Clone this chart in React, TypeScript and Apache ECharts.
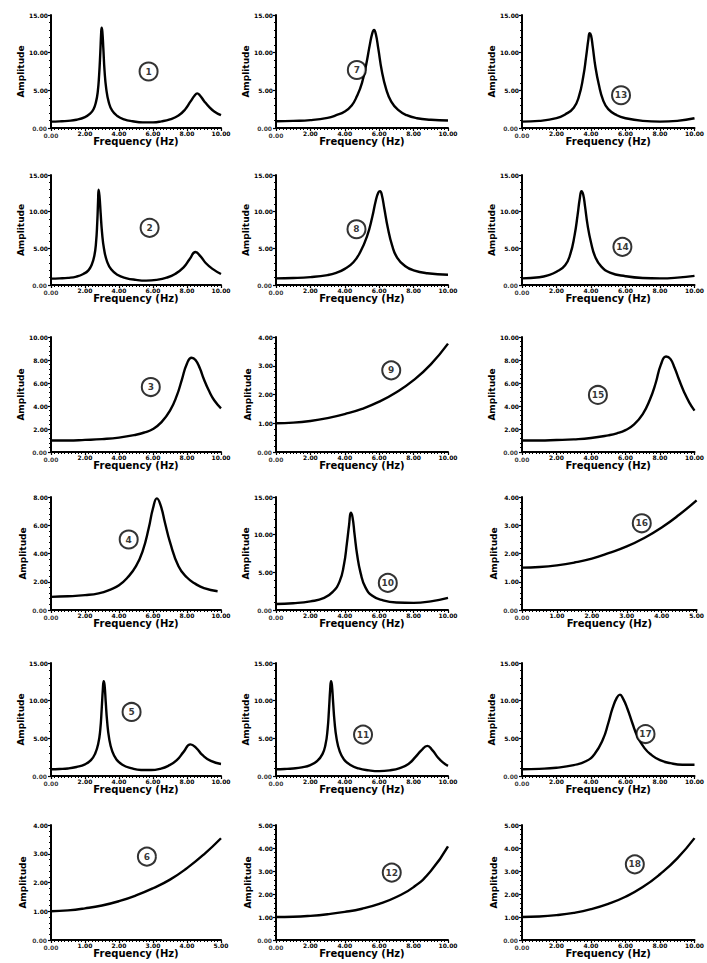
import React, { useEffect, useRef } from "react";
import * as echarts from "echarts";

// ---- curve data, [frequency (Hz), amplitude] ----
const p1 = [[0,0.85],[0.5,0.88],[1,0.95],[1.5,1.1],[2,1.45],[2.3,1.9],[2.5,2.5],[2.65,3.5],[2.75,4.8],[2.83,7],[2.9,10],[2.95,12.6],[2.98,13.3],[3.02,12.8],[3.08,10.5],[3.15,7.6],[3.25,5.2],[3.4,3.4],[3.6,2.3],[3.9,1.6],[4.3,1.15],[4.8,0.9],[5.4,0.75],[6,0.75],[6.5,0.88],[7,1.15],[7.5,1.65],[7.9,2.5],[8.2,3.5],[8.45,4.3],[8.6,4.6],[8.75,4.35],[9,3.6],[9.3,2.8],[9.6,2.2],[10,1.7]];
const p2 = [[0,0.87],[0.5,0.9],[1,0.97],[1.5,1.15],[1.9,1.5],[2.2,2.0],[2.4,2.8],[2.55,4.0],[2.65,5.8],[2.72,8.5],[2.77,11.5],[2.8,13.0],[2.85,12.2],[2.92,9.8],[3.0,7.2],[3.12,4.9],[3.3,3.2],[3.55,2.1],[3.9,1.4],[4.4,0.95],[5,0.7],[5.6,0.6],[6.2,0.7],[6.8,1.0],[7.3,1.5],[7.8,2.4],[8.15,3.5],[8.5,4.5],[8.8,3.9],[9.1,3.0],[9.5,2.2],[10,1.5]];
const p3 = [[0,1.0],[1,1.0],[2,1.05],[3,1.12],[4,1.25],[5,1.5],[5.5,1.7],[6,2.0],[6.5,2.6],[7,3.6],[7.4,4.9],[7.7,6.3],[8.0,7.7],[8.27,8.2],[8.5,8.0],[8.75,7.3],[9.0,6.3],[9.3,5.3],[9.6,4.5],[10,3.8]];
const p4 = [[0,0.93],[1,0.97],[2,1.05],[2.8,1.18],[3.5,1.45],[4,1.75],[4.5,2.3],[5,3.1],[5.4,4.2],[5.75,5.8],[6.0,7.2],[6.23,7.9],[6.45,7.4],[6.7,6.2],[7.0,4.8],[7.5,3.1],[8,2.3],[8.5,1.85],[9,1.55],[9.8,1.33]];
const p5 = [[0,0.9],[0.5,0.93],[1,1.0],[1.5,1.2],[2,1.55],[2.35,2.1],[2.6,3.0],[2.78,4.3],[2.9,6.2],[2.98,8.8],[3.05,11.5],[3.1,12.6],[3.15,12.1],[3.22,9.8],[3.3,7.3],[3.42,5.0],[3.6,3.3],[3.85,2.2],[4.2,1.5],[4.7,1.05],[5.3,0.8],[5.9,0.8],[6.4,0.95],[6.9,1.35],[7.4,2.1],[7.8,3.2],[8.2,4.2],[8.55,3.7],[8.9,2.8],[9.4,2.0],[10,1.6]];
const p6 = [[0,1.0],[0.5,1.03],[1,1.1],[1.5,1.2],[2,1.35],[2.5,1.55],[3,1.8],[3.5,2.1],[4,2.5],[4.5,2.98],[5,3.54]];
const p7 = [[0,0.9],[1,0.95],[2,1.05],[3,1.35],[3.5,1.7],[4,2.2],[4.4,3.0],[4.7,4.2],[5,6.0],[5.25,8.5],[5.45,11],[5.6,12.6],[5.7,13.0],[5.8,12.5],[5.95,10.5],[6.15,7.6],[6.4,5.2],[6.7,3.5],[7.1,2.4],[7.6,1.7],[8.2,1.3],[9,1.1],[10,1.0]];
const p8 = [[0,0.9],[1,0.95],[2,1.08],[3,1.35],[3.5,1.65],[4,2.2],[4.5,3.1],[4.9,4.5],[5.3,6.7],[5.6,9.3],[5.8,11.5],[5.95,12.6],[6.05,12.8],[6.15,12.3],[6.3,10.4],[6.5,7.8],[6.75,5.4],[7.05,3.7],[7.5,2.6],[8,2.0],[8.8,1.6],[10,1.4]];
const p9 = [[0,1.0],[1,1.02],[2,1.08],[3,1.18],[4,1.32],[5,1.5],[6,1.75],[7,2.08],[8,2.5],[9,3.05],[10,3.77]];
const p10 = [[0,0.8],[1,0.9],[2,1.15],[2.8,1.6],[3.3,2.4],[3.7,3.8],[3.95,6],[4.12,8.8],[4.25,11.3],[4.35,12.9],[4.45,12.3],[4.57,10],[4.72,7.3],[4.92,4.9],[5.2,3.0],[5.6,1.9],[6.2,1.3],[7,1.0],[8,0.95],[9,1.15],[10,1.6]];
const p11 = [[0,0.9],[0.5,0.93],[1,1.0],[1.5,1.15],[2,1.45],[2.4,2.0],[2.7,2.9],[2.88,4.2],[3.0,6.2],[3.08,8.8],[3.15,11.5],[3.2,12.6],[3.25,12.1],[3.32,9.8],[3.4,7.3],[3.52,5.0],[3.7,3.3],[3.95,2.2],[4.3,1.5],[4.8,1.0],[5.4,0.75],[6,0.65],[6.6,0.75],[7.2,1.05],[7.7,1.6],[8.1,2.5],[8.45,3.4],[8.8,4.0],[9.1,3.4],[9.4,2.5],[9.7,1.8],[10,1.35]];
const p12 = [[0,1.0],[1,1.01],[2,1.05],[3,1.12],[4,1.22],[5,1.36],[6,1.57],[7,1.87],[8,2.3],[9,3.0],[10,4.07]];
const p13 = [[0,0.85],[1,0.95],[2,1.3],[2.5,1.8],[3,2.7],[3.3,4.2],[3.55,6.8],[3.72,9.5],[3.85,11.8],[3.92,12.6],[4.0,12.3],[4.1,10.8],[4.25,8.2],[4.45,5.8],[4.7,3.7],[5,2.5],[5.5,1.7],[6,1.3],[7,0.95],[8,0.85],[9,0.95],[10,1.3]];
const p14 = [[0,0.9],[1,1.05],[1.5,1.3],[2,1.8],[2.5,2.7],[2.8,4.2],[3.05,6.8],[3.22,9.5],[3.35,11.8],[3.45,12.8],[3.55,12.3],[3.65,10.8],[3.8,8.2],[4.0,5.8],[4.25,3.8],[4.6,2.5],[5.1,1.7],[6,1.2],[7,0.95],[8,0.9],[9,1.0],[10,1.25]];
const p15 = [[0,1.0],[1,1.0],[2,1.04],[3,1.1],[4,1.22],[5,1.45],[5.5,1.62],[6,1.9],[6.5,2.4],[7,3.3],[7.4,4.5],[7.75,6.0],[8.05,7.6],[8.35,8.3],[8.6,8.1],[8.85,7.3],[9.1,6.3],[9.4,5.2],[9.7,4.3],[10,3.6]];
const p16 = [[0,1.5],[0.5,1.52],[1,1.58],[1.5,1.68],[2,1.82],[2.5,2.02],[3,2.25],[3.5,2.55],[4,2.92],[4.5,3.37],[5,3.88]];
const p17 = [[0,0.9],[1,0.95],[2,1.1],[3,1.45],[3.7,1.95],[4.2,2.9],[4.7,4.9],[5.0,7.0],[5.25,9.0],[5.5,10.4],[5.68,10.8],[5.85,10.3],[6.1,9.0],[6.4,7.0],[6.7,5.2],[7.1,3.7],[7.5,2.8],[8,2.1],[8.6,1.7],[9.3,1.5],[10,1.5]];
const p18 = [[0,1.0],[1,1.02],[2,1.08],[3,1.18],[4,1.34],[5,1.57],[6,1.88],[7,2.3],[8,2.86],[9,3.55],[10,4.43]];

const curves = [p1,p2,p3,p4,p5,p6,p7,p8,p9,p10,p11,p12,p13,p14,p15,p16,p17,p18];

// axis ranges per panel
const xMaxes = [10,10,10,10,10,5, 10,10,10,10,10,10, 10,10,10,5,10,10];
const xSteps = [2,2,2,2,2,1, 2,2,2,2,2,2, 2,2,2,1,2,2];
const yMaxes = [15,15,10,8,15,4, 15,15,4,15,15,5, 15,15,10,4,15,5];
const ySteps = [5,5,2,2,5,1, 5,5,1,5,5,1, 5,5,2,1,5,1];

// circled panel numbers and where they sit (data coordinates)
const panelNumbers = ["1","2","3","4","5","6","7","8","9","10","11","12","13","14","15","16","17","18"];
const numberPos = [[5.74,7.5],[5.8,7.8],[5.87,5.65],[4.57,4.99],[4.74,8.5],[2.82,2.9],[4.7,7.7],[4.68,7.6],[6.7,2.84],[6.5,3.6],[5.06,5.5],[6.73,2.93],[5.74,4.35],[5.82,5.2],[4.4,4.96],[3.43,3.07],[7.16,5.57],[6.54,3.29]];

const X_NAME = "Frequency (Hz)";
const Y_NAME = "Amplitude";
const ORIGIN_LABEL = "0.00";

// layout (pixels)
const colLeft = [51, 276, 522];
const colWidth = [170, 172, 179];
const rowTop = [15, 175, 337, 497, 663, 825];
const rowBottom = [128, 285, 452, 610, 776, 940];

const FONT = "DejaVu Sans";

export default function App() {
  const ref = useRef<HTMLDivElement>(null);
  useEffect(() => {
    if (!ref.current) return;
    const chart = echarts.init(ref.current, null, { renderer: "svg" });
    const grids: any[] = [];
    const xAxes: any[] = [];
    const yAxes: any[] = [];
    const series: any[] = [];
    const tickFont = { fontSize: 6, fontWeight: "bold", fontFamily: FONT, color: "#000" };
    curves.forEach((data, i) => {
      const col = Math.floor(i / 6);
      const row = i % 6;
      grids.push({
        left: colLeft[col],
        top: rowTop[row],
        width: colWidth[col],
        height: rowBottom[row] - rowTop[row],
        containLabel: false,
      });
      const lineCommon = {
        axisLine: { show: true, onZero: false, lineStyle: { color: "#000", width: 2 } },
        axisTick: { show: true, length: 3, lineStyle: { color: "#000", width: 1.2 } },
        splitLine: { show: false },
      };
      const labelCommon = {
        ...tickFont,
        showMinLabel: false,
        showMaxLabel: true,
        formatter: (v: number) => v.toFixed(2),
      };
      xAxes.push({
        type: "value",
        gridIndex: i,
        min: 0,
        max: xMaxes[i],
        interval: xSteps[i],
        name: X_NAME,
        nameLocation: "middle",
        nameGap: 8,
        nameTextStyle: { fontSize: 10, fontWeight: "bold", fontFamily: FONT, color: "#000", verticalAlign: "top" },
        ...lineCommon,
        minorTick: { show: true, splitNumber: 10, length: 2, lineStyle: { color: "#000", width: 1 } },
        axisLabel: { ...labelCommon, margin: 2 },
      });
      yAxes.push({
        type: "value",
        gridIndex: i,
        min: 0,
        max: yMaxes[i],
        interval: ySteps[i],
        name: Y_NAME,
        nameLocation: "middle",
        nameGap: 24,
        nameTextStyle: { fontSize: 9, fontWeight: "bold", fontFamily: FONT, color: "#000" },
        ...lineCommon,
        minorTick: { show: true, splitNumber: 5, length: 2, lineStyle: { color: "#000", width: 1 } },
        axisLabel: { ...labelCommon, margin: 3 },
      });
      series.push({
        type: "line",
        xAxisIndex: i,
        yAxisIndex: i,
        data,
        showSymbol: false,
        smooth: 0.5,
        lineStyle: { color: "#000", width: 2.4 },
        z: 2,
      });
      // the two "0.00" labels at the origin (one for each axis)
      series.push({
        type: "scatter",
        xAxisIndex: i,
        yAxisIndex: i,
        clip: false,
        silent: true,
        symbol: "circle",
        symbolSize: 2,
        itemStyle: { color: "rgba(0,0,0,0)" },
        labelLayout: { hideOverlap: false },
        data: [
          {
            value: [0, 0],
            label: { show: true, position: "left", distance: 3, offset: [0, -3], formatter: ORIGIN_LABEL, ...tickFont },
          },
          {
            value: [0, 0],
            label: { show: true, position: "bottom", distance: 3, offset: [9, 0], formatter: ORIGIN_LABEL, ...tickFont },
          },
        ],
        z: 1,
      });
      series.push({
        type: "scatter",
        xAxisIndex: i,
        yAxisIndex: i,
        data: [numberPos[i]],
        symbol: "circle",
        symbolSize: 18,
        itemStyle: { color: "#fff", borderColor: "#000", borderWidth: 2 },
        label: {
          show: true,
          position: "inside",
          formatter: panelNumbers[i],
          fontSize: 9,
          fontWeight: "bold",
          fontFamily: FONT,
          color: "#000",
        },
        z: 3,
      });
    });
    chart.setOption({
      animation: false,
      backgroundColor: "#fff",
      grid: grids,
      xAxis: xAxes,
      yAxis: yAxes,
      series,
    });
    return () => chart.dispose();
  }, []);
  return (
    <div
      ref={ref}
      style={{ position: "absolute", left: 0, top: 0, width: 707, height: 963, background: "#fff" }}
    />
  );
}
